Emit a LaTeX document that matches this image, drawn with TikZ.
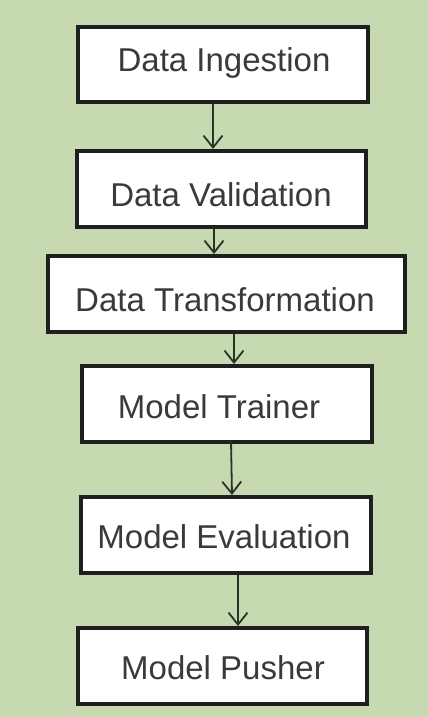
\documentclass[tikz,border=0pt]{standalone}
\usepackage{fontspec}
\setmainfont{Liberation Sans}
\usetikzlibrary{arrows.meta}
\definecolor{bggreen}{RGB}{198,217,177}
\definecolor{txtgray}{RGB}{58,58,60}
\definecolor{arrowc}{RGB}{40,52,40}
\tikzset{
  stagebox/.style={draw=black!88, line width=4pt, fill=white, rectangle, inner sep=0pt},
  stagelabel/.style={text=txtgray, font=\fontsize{33}{37}\selectfont},
  flowarrow/.style={draw=arrowc, line width=1.8pt, -{Straight Barb[length=12pt,width=19pt,line width=1.8pt]}},
}
\begin{document}
\begin{tikzpicture}[x=1pt,y=-1pt]
\fill[bggreen] (0,0) rectangle (428,717);
\useasboundingbox (0,0) rectangle (428,717);
\node[stagebox, minimum width=290pt, minimum height=75pt] (ing) at (223,64.5) {};
\node[stagebox, minimum width=289pt, minimum height=76pt] (val) at (221.5,189) {};
\node[stagebox, minimum width=357pt, minimum height=76pt] (tra) at (226.5,294) {};
\node[stagebox, minimum width=290pt, minimum height=76pt] (tri) at (227,404) {};
\node[stagebox, minimum width=290pt, minimum height=76pt] (eva) at (226,535) {};
\node[stagebox, minimum width=289pt, minimum height=76pt] (pus) at (222.5,666) {};
\node[stagelabel] (ingt) at (224,63) {Data Ingestion};
\node[stagelabel] (valt) at (221,195) {Data Validation};
\node[stagelabel] (trat) at (225,300) {Data Transformation};
\node[stagelabel] (trit) at (219,407) {Model Trainer};
\node[stagelabel] (evat) at (224,537) {Model Evaluation};
\node[stagelabel] (pust) at (223,668) {Model Pusher};
\draw[flowarrow] (ing.south -| 213,0) -- (val.north -| 213,0);
\draw[flowarrow] (val.south -| 214,0) -- (tra.north -| 214,0);
\draw[flowarrow] (tra.south -| 234,0) -- (tri.north -| 234,0);
\draw[flowarrow] ([yshift=3pt]tri.south -| 231,0) -- (eva.north -| 232,0);
\draw[flowarrow] (eva.south -| 238,0) -- (pus.north -| 238,0);
\end{tikzpicture}
\end{document}
